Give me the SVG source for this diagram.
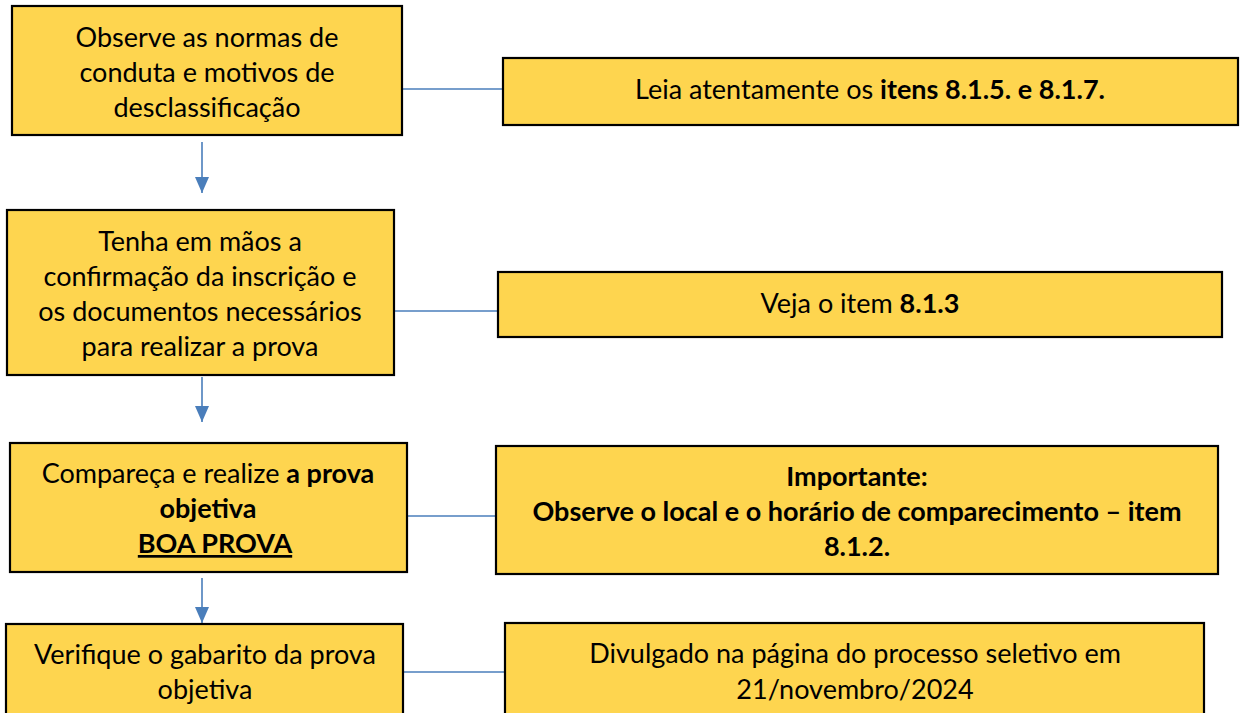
<svg xmlns="http://www.w3.org/2000/svg" width="1243" height="713" viewBox="0 0 1243 713">
<style>
.box{fill:#FED54F;stroke:#000;stroke-width:2.2}
.t{font-family:Lato,"Liberation Sans",sans-serif;font-size:27px;fill:#000;text-anchor:middle}
.b{font-weight:bold}
.ln{stroke:#4A7EBB;stroke-width:1.6;fill:none}
</style>
<defs>
<marker id="ah" viewBox="0 0 16 14" refX="16" refY="7" markerWidth="16" markerHeight="14" markerUnits="userSpaceOnUse" orient="auto">
<path d="M0,0 L16,7 L0,14 Z" fill="#4A7EBB"/>
</marker>
</defs>
<rect width="1243" height="713" fill="#fff"/>
<g id="connectors">
<line class="ln" x1="402" y1="89" x2="503" y2="89"/>
<line class="ln" x1="394" y1="311" x2="498" y2="311"/>
<line class="ln" x1="407" y1="516" x2="496" y2="516"/>
<line class="ln" x1="403" y1="672" x2="505" y2="672"/>
<line class="ln" x1="202" y1="142" x2="202" y2="193" marker-end="url(#ah)"/>
<line class="ln" x1="202" y1="377" x2="202" y2="422" marker-end="url(#ah)"/>
<line class="ln" x1="202" y1="578" x2="202" y2="623" marker-end="url(#ah)"/>
</g>
<g id="n1">
<rect class="box" x="12" y="6" width="390" height="129"/>
<text class="t" x="207" y="47">Observe as normas de</text>
<text class="t" x="207" y="82">conduta e motivos de</text>
<text class="t" x="207" y="117">desclassificação</text>
</g>
<g id="r1">
<rect class="box" x="503" y="58" width="735" height="67"/>
<text class="t" x="870" y="99">Leia atentamente os <tspan class="b">itens 8.1.5. e 8.1.7.</tspan></text>
</g>
<g id="n2">
<rect class="box" x="7" y="210" width="387" height="165"/>
<text class="t" x="200" y="251">Tenha em mãos a</text>
<text class="t" x="200" y="286">confirmação da inscrição e</text>
<text class="t" x="200" y="321">os documentos necessários</text>
<text class="t" x="200" y="356">para realizar a prova</text>
</g>
<g id="r2">
<rect class="box" x="498" y="272" width="724" height="65"/>
<text class="t" x="860" y="313">Veja o item <tspan class="b">8.1.3</tspan></text>
</g>
<g id="n3">
<rect class="box" x="10" y="443" width="397" height="129"/>
<text class="t" x="208" y="483">Compareça e realize <tspan class="b">a prova</tspan></text>
<text class="t b" x="208" y="518">objetiva</text>
<text class="t b" x="215" y="553" text-decoration="underline">BOA PROVA</text>
</g>
<g id="r3">
<rect class="box" x="496" y="446" width="722" height="128"/>
<text class="t b" x="857" y="486">Importante:</text>
<text class="t b" x="857" y="521">Observe o local e o horário de comparecimento – item</text>
<text class="t b" x="857" y="556">8.1.2.</text>
</g>
<g id="n4">
<rect class="box" x="6" y="624" width="397" height="100"/>
<text class="t" x="205" y="664">Verifique o gabarito da prova</text>
<text class="t" x="205" y="699">objetiva</text>
</g>
<g id="r4">
<rect class="box" x="505" y="623" width="699" height="100"/>
<text class="t" x="855" y="663">Divulgado na página do processo seletivo em</text>
<text class="t" x="855" y="699">21/novembro/2024</text>
</g>
</svg>
